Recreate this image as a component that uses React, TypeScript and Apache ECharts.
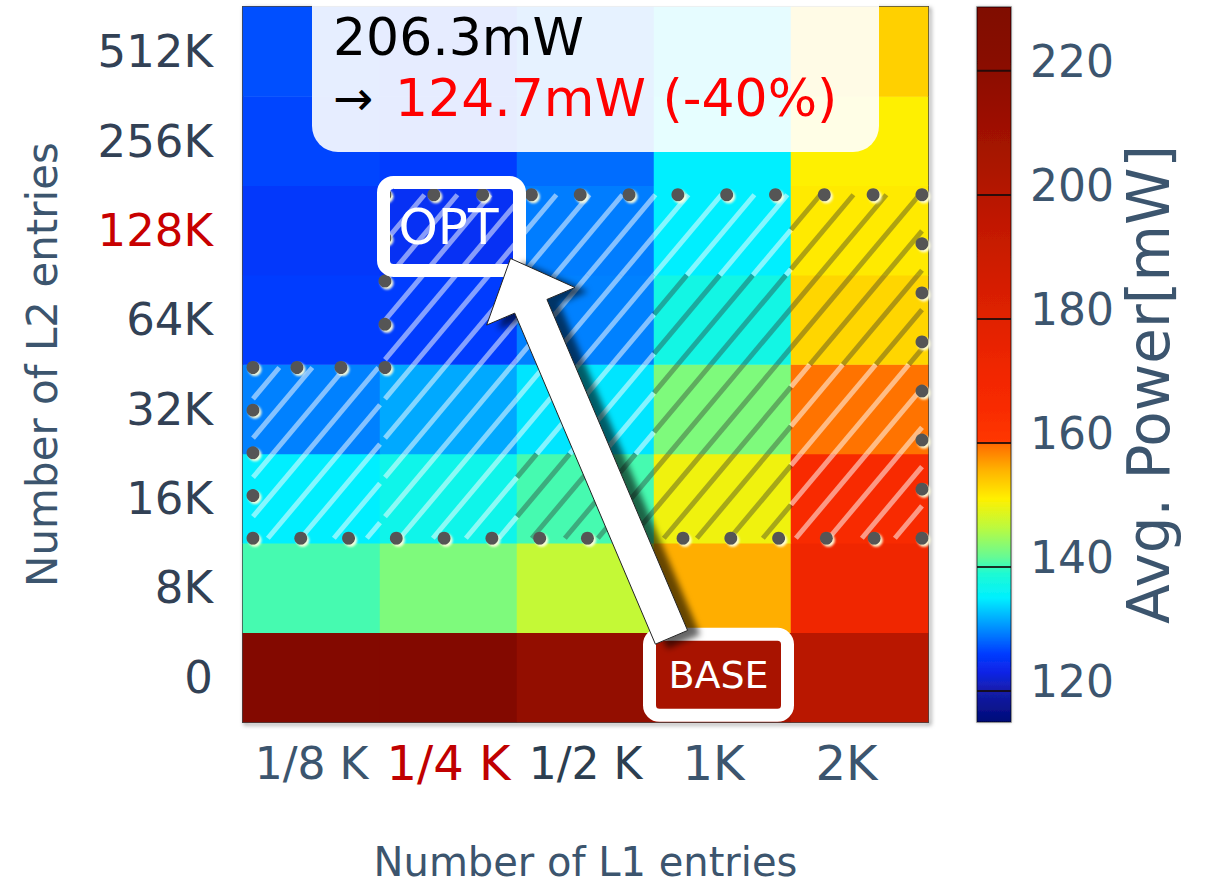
import React, { useEffect, useRef } from 'react';
import * as echarts from 'echarts';

// ---------- data ----------
const l1Labels = ['1/8 K', '1/4 K', '1/2 K', '1K', '2K'];
const l2Labels = ['0', '8K', '16K', '32K', '64K', '128K', '256K', '512K'];

// average power [mW] per L2 size (row), columns follow l1Labels
const power0 = [228, 228, 217, 206.3, 199];
const power8K = [140.5, 143, 147, 156, 172];
const power16K = [135, 137, 140.5, 150, 166];
const power32K = [129.5, 131.5, 134.5, 143, 159.5];
const power64K = [126, 126, 129.5, 137.5, 153];
const power128K = [125.5, 124.7, 129.3, 135, 151.5];
const power256K = [126.5, 126, 128.5, 135, 151];
const power512K = [127, 126, 129, 134, 153.5];
const powerRows = [power0, power8K, power16K, power32K, power64K, power128K, power256K, power512K];

const colorbarTicks = [120, 140, 160, 180, 200, 220];
const powerMin = 115;
const powerMax = 230.3;

const baseText = '206.3mW';
const optText = '124.7mW (-40%)';

// highlighted (hatched) region, expressed in cells
const hatchUpper = { l1From: '1/4 K', l1To: '2K', l2From: '16K', l2To: '128K' };
const hatchLower = { l1From: '1/8 K', l1To: '1/8 K', l2From: '16K', l2To: '32K' };
const optCell = ['1/4 K', '128K'];
const baseCell = ['1K', '0'];

// colour map (value -> rgb)
const colorStops: Array<[number, number[]]> = [
  [115, [0, 10, 120]],
  [120, [20, 30, 170]],
  [123, [15, 35, 230]],
  [126, [0, 60, 255]],
  [130.5, [0, 150, 255]],
  [135, [0, 240, 255]],
  [139, [30, 250, 210]],
  [141.5, [100, 250, 150]],
  [146.5, [190, 250, 60]],
  [151, [255, 240, 0]],
  [155.5, [255, 180, 0]],
  [159.7, [255, 110, 0]],
  [160.3, [255, 55, 0]],
  [166, [248, 42, 0]],
  [172, [240, 38, 0]],
  [178, [228, 34, 0]],
  [186, [212, 30, 0]],
  [196, [192, 24, 0]],
  [204, [172, 20, 0]],
  [215, [150, 15, 0]],
  [222, [136, 10, 0]],
  [230.3, [128, 8, 0]],
];

// ---------- helpers ----------
function rgb(c: number[]) {
  return `rgb(${Math.round(c[0])},${Math.round(c[1])},${Math.round(c[2])})`;
}
function colorAt(v: number): string {
  if (v <= colorStops[0][0]) return rgb(colorStops[0][1]);
  for (let i = 1; i < colorStops.length; i++) {
    const [v1, c1] = colorStops[i];
    const [v0, c0] = colorStops[i - 1];
    if (v <= v1) {
      const t = (v - v0) / (v1 - v0);
      return rgb(c0.map((c, k) => c + (c1[k] - c) * t));
    }
  }
  return rgb(colorStops[colorStops.length - 1][1]);
}
const visualColors: string[] = [];
for (let v = powerMin; v <= powerMax + 1e-6; v += 0.5) visualColors.push(colorAt(v));

const heatData: number[][] = [];
powerRows.forEach((row, iy) => row.forEach((p, ix) => heatData.push([ix, iy, p])));

const SLATE = '#3c556e';
const FONT = '"DejaVu Sans", sans-serif';

// hatch geometry
const HK = 0.84; // cot of hatch angle (~50deg)
const HSP = 33; // horizontal spacing
const HPHASE = 27;

function hatchSegs(x0: number, y0: number, x1: number, y1: number) {
  const segs: number[][] = [];
  const cMin = x0 + HK * y0;
  const cMax = x1 + HK * y1;
  let c = Math.ceil((cMin - HPHASE) / HSP) * HSP + HPHASE;
  for (; c <= cMax; c += HSP) {
    const ya = Math.max(y0, (c - x1) / HK);
    const yb = Math.min(y1, (c - x0) / HK);
    if (yb - ya > 0.5) segs.push([c - HK * ya, ya, c - HK * yb, yb]);
  }
  return segs;
}

function overlayRender(params: any, api: any) {
  const size = api.size([1, 1]);
  const cw = size[0];
  const ch = size[1];
  const cell = (ix: number, iy: number) => {
    const c = api.coord([ix, iy]);
    return { x0: c[0] - cw / 2, x1: c[0] + cw / 2, y0: c[1] - ch / 2, y1: c[1] + ch / 2, cx: c[0], cy: c[1] };
  };
  const xi = (l: string) => l1Labels.indexOf(l);
  const yi = (l: string) => l2Labels.indexOf(l);

  const uTL = cell(xi(hatchUpper.l1From), yi(hatchUpper.l2To));
  const uBR = cell(xi(hatchUpper.l1To), yi(hatchUpper.l2From));
  const R1 = { x0: uTL.x0 + 5, y0: uTL.y0 + 9, x1: uBR.x1 - 6, y1: uBR.y1 - 5 };
  const lTL = cell(xi(hatchLower.l1From), yi(hatchLower.l2To));
  const R2 = { x0: lTL.x0 + 10, y0: lTL.y0 + 3, x1: R1.x0, y1: R1.y1 };

  const children: any[] = [];
  const addCells = (reg: any, R: any) => {
    for (let ix = xi(reg.l1From); ix <= xi(reg.l1To); ix++) {
      for (let iy = yi(reg.l2From); iy <= yi(reg.l2To); iy++) {
        const c = cell(ix, iy);
        const x0 = Math.max(c.x0, R.x0), x1 = Math.min(c.x1, R.x1);
        const y0 = Math.max(c.y0, R.y0), y1 = Math.min(c.y1, R.y1);
        if (x1 <= x0 || y1 <= y0) continue;
        const v = powerRows[iy][ix];
        const bright = v >= 137.5 && v <= 157;
        const stroke = bright ? 'rgba(45,45,45,0.38)' : 'rgba(255,255,255,0.52)';
        hatchSegs(x0, y0, x1, y1).forEach((s) =>
          children.push({
            type: 'line',
            shape: { x1: s[0], y1: s[1], x2: s[2], y2: s[3] },
            style: { stroke, lineWidth: 5 },
          })
        );
      }
    }
  };
  addCells(hatchUpper, R1);
  addCells(hatchLower, R2);

  // dotted boundary
  const poly = [
    [R1.x0, R1.y0], [R1.x1, R1.y0], [R1.x1, R1.y1], [R2.x0, R2.y1], [R2.x0, R2.y0], [R1.x0, R2.y0],
  ];
  for (let i = 0; i < poly.length; i++) {
    const a = poly[i];
    const b = poly[(i + 1) % poly.length];
    const len = Math.hypot(b[0] - a[0], b[1] - a[1]);
    const n = Math.max(1, Math.round(len / 48));
    for (let k = 0; k < n; k++) {
      const t = k / n;
      children.push({
        type: 'circle',
        shape: { cx: a[0] + (b[0] - a[0]) * t, cy: a[1] + (b[1] - a[1]) * t, r: 6.5 },
        style: { fill: '#555', shadowBlur: 2, shadowOffsetX: 2, shadowOffsetY: 2, shadowColor: 'rgba(255,255,220,0.95)' },
      });
    }
  }

  const opt = cell(xi(optCell[0]), yi(optCell[1]));
  const base = cell(xi(baseCell[0]), yi(baseCell[1]));

  // OPT box
  children.push({
    type: 'rect',
    shape: { x: opt.cx + 3 - 68, y: opt.cy - 4 - 44, width: 136, height: 88, r: 10 },
    style: { fill: 'none', stroke: '#fff', lineWidth: 13 },
  });
  children.push({
    type: 'text',
    style: { text: 'OPT', x: opt.cx, y: opt.cy - 3, fill: '#fff', font: `50px ${FONT}`, align: 'center', verticalAlign: 'middle' },
  });
  // BASE box
  children.push({
    type: 'rect',
    shape: { x: base.cx - 4 - 69, y: base.cy - 2.5 - 40.5, width: 138, height: 81, r: 10 },
    style: { fill: 'none', stroke: '#fff', lineWidth: 13 },
  });

  // arrow
  const T = [opt.cx + 62, opt.cy + 28];
  const B = [base.cx - 51, base.cy - 40];
  const L = Math.hypot(T[0] - B[0], T[1] - B[1]);
  const u = [(T[0] - B[0]) / L, (T[1] - B[1]) / L];
  const nrm = [-u[1], u[0]];
  const hw = 17.5, headL = 52, headW = 48;
  const H = [T[0] - headL * u[0], T[1] - headL * u[1]];
  const P = (p: number[], w: number) => [p[0] + w * nrm[0], p[1] + w * nrm[1]];
  children.push({
    type: 'polygon',
    shape: { points: [P(B, hw), P(H, hw), P(H, headW), T, P(H, -headW), P(H, -hw), P(B, -hw)] },
    style: {
      fill: '#fff', stroke: '#222', lineWidth: 1,
      shadowBlur: 6, shadowOffsetX: 12, shadowOffsetY: 4, shadowColor: 'rgba(0,0,0,0.6)',
    },
  });
  children.push({
    type: 'text',
    style: { text: 'BASE', x: base.cx - 4, y: base.cy - 2, fill: '#fff', font: `38px ${FONT}`, align: 'center', verticalAlign: 'middle' },
  });

  return { type: 'group', children };
}

function colorbarRender(params: any, api: any) {
  const cs = params.coordSys;
  const top = api.coord([0, api.value(2)])[1];
  const bottom = api.coord([0, api.value(1)])[1];
  const stops = colorStops
    .map(([v, c]) => ({ offset: (powerMax - v) / (powerMax - powerMin), color: rgb(c) }))
    .sort((a, b) => a.offset - b.offset);
  const children: any[] = [
    {
      type: 'rect',
      shape: { x: cs.x, y: top, width: cs.width, height: bottom - top },
      style: {
        fill: new echarts.graphic.LinearGradient(0, 0, 0, 1, stops),
        stroke: 'rgba(0,0,0,0.45)',
        lineWidth: 1.5,
        shadowBlur: 3,
        shadowColor: 'rgba(0,0,0,0.3)',
      },
    },
  ];
  colorbarTicks.forEach((t) => {
    const y = api.coord([0, t])[1];
    children.push({
      type: 'line',
      shape: { x1: cs.x, y1: y, x2: cs.x + cs.width, y2: y },
      style: { stroke: 'rgba(20,10,10,0.85)', lineWidth: 2 },
    });
  });
  return { type: 'group', children };
}

const xRich: any = {
  a: { fontSize: 44, fontFamily: FONT, color: SLATE, lineHeight: 50 },
  b: { fontSize: 48, fontFamily: FONT, color: '#c00000', lineHeight: 50 },
  c: { fontSize: 44, fontFamily: FONT, color: '#2c3e50', lineHeight: 50 },
  d: { fontSize: 48, fontFamily: FONT, color: SLATE, lineHeight: 50, padding: [0, 18, 0, 0] },
  e: { fontSize: 48, fontFamily: FONT, color: SLATE, lineHeight: 50, padding: [0, 26, 0, 0] },
};
const xKeys = ['a', 'b', 'c', 'd', 'e'];

export default function App() {
  const ref = useRef<HTMLDivElement>(null);
  useEffect(() => {
    const chart = echarts.init(ref.current!, null, { renderer: 'svg' });
    const option: any = {
      animation: false,
      backgroundColor: '#fff',
      grid: [
        {
          left: 243, top: 7, width: 685, height: 715,
          outerBoundsMode: 'none', containLabel: false,
          show: true, borderColor: '#444', borderWidth: 2, backgroundColor: 'transparent',
          shadowBlur: 4, shadowColor: 'rgba(0,0,0,0.5)', shadowOffsetX: 2, shadowOffsetY: 2,
        },
        { left: 977, top: 7, width: 34, height: 715, outerBoundsMode: 'none', containLabel: false },
      ],
      xAxis: [
        {
          type: 'category', gridIndex: 0, data: l1Labels,
          axisLine: { show: false }, axisTick: { show: false }, splitLine: { show: false },
          axisLabel: {
            interval: 0, margin: 16,
            formatter: (v: string, i: number) => `{${xKeys[i]}|${v}}`,
            rich: xRich,
          },
          name: 'Number of L1 entries', nameLocation: 'middle', nameGap: 120,
          nameTextStyle: { fontSize: 40, lineHeight: 40, fontFamily: FONT, color: SLATE },
        },
        { type: 'value', gridIndex: 1, min: 0, max: 1, show: false },
      ],
      yAxis: [
        {
          type: 'category', gridIndex: 0, data: l2Labels,
          axisLine: { show: false }, axisTick: { show: false }, splitLine: { show: false },
          axisLabel: {
            interval: 0, margin: 30,
            formatter: (v: string) => (v === '128K' ? `{r|${v}}` : `{n|${v}}`),
            rich: {
              n: { fontSize: 45, fontFamily: FONT, color: '#324155' },
              r: { fontSize: 45, fontFamily: FONT, color: '#c80000' },
            },
          },
          name: 'Number of L2 entries', nameLocation: 'middle', nameGap: 180,
          nameTextStyle: { fontSize: 42, fontFamily: FONT, color: SLATE },
        },
        {
          type: 'value', gridIndex: 1, min: powerMin, max: powerMax, position: 'right',
          axisLine: { show: false }, splitLine: { show: false }, axisTick: { show: false },
          axisLabel: {
            customValues: colorbarTicks, margin: 19,
            formatter: (v: number) => `{v|${v}}`,
            rich: { v: { fontSize: 44, fontFamily: FONT, color: SLATE, padding: [0, 0, 18, 0] } },
          },
          name: 'Avg. Power[mW]', nameLocation: 'middle', nameGap: 109, nameRotate: 90,
          nameTextStyle: { fontSize: 58, fontFamily: FONT, color: SLATE, padding: [0, 40, 0, 0] },
        },
      ],
      visualMap: {
        show: false, type: 'continuous', seriesIndex: 0, dimension: 2,
        min: powerMin, max: powerMax, inRange: { color: visualColors },
      },
      series: [
        {
          type: 'heatmap', xAxisIndex: 0, yAxisIndex: 0, data: heatData,
          itemStyle: { borderWidth: 0 }, emphasis: { disabled: true }, silent: true,
        },
        {
          type: 'custom', xAxisIndex: 0, yAxisIndex: 0, data: [[0, 0]], z: 5, silent: true,
          renderItem: overlayRender,
        },
        {
          type: 'custom', xAxisIndex: 1, yAxisIndex: 1, data: [[0, powerMin, powerMax]], z: 2, silent: true,
          renderItem: colorbarRender,
        },
      ],
      graphic: [
        {
          type: 'rect', z: 100, shape: { x: 312, y: -30, width: 567, height: 182, r: 26 },
          style: { fill: 'rgba(255,255,255,0.9)' },
        },
        {
          type: 'text', z: 101, x: 333, y: 37,
          style: { text: baseText, font: `52px ${FONT}`, fill: '#000', verticalAlign: 'middle' },
        },
        {
          type: 'text', z: 101, x: 333, y: 98,
          style: { text: '\u2192', font: `48px ${FONT}`, fill: '#000', verticalAlign: 'middle' },
        },
        {
          type: 'text', z: 101, x: 395, y: 98,
          style: { text: optText, font: `52px ${FONT}`, fill: '#ff0000', verticalAlign: 'middle' },
        },
      ],
    };
    chart.setOption(option);
    return () => chart.dispose();
  }, []);
  return (
    <div
      ref={ref}
      style={{ position: 'absolute', left: 0, top: 0, width: 1209, height: 889, background: '#fff' }}
    />
  );
}
